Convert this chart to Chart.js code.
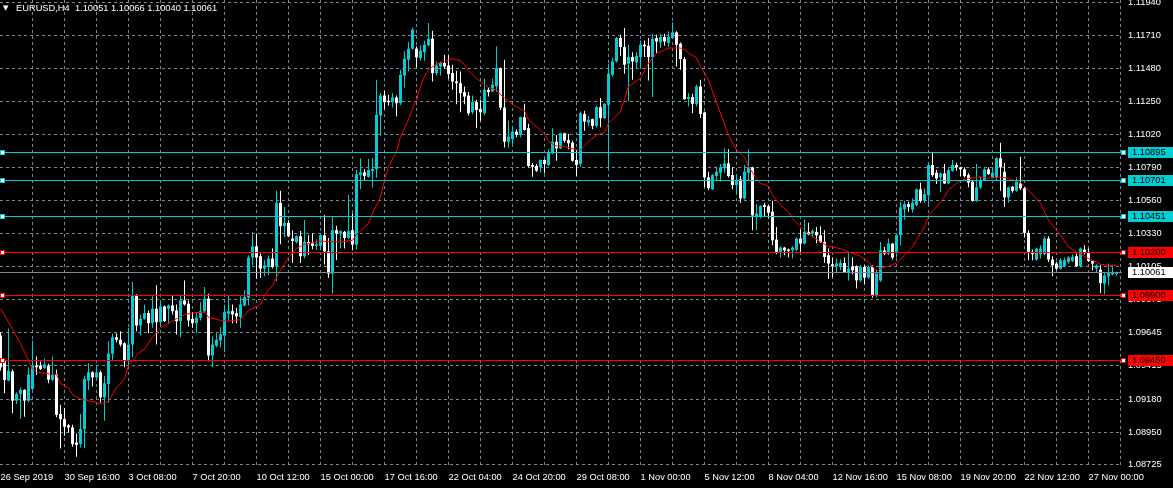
<!DOCTYPE html>
<html><head><meta charset="utf-8">
<script src="https://cdn.jsdelivr.net/npm/chart.js@4.4.1/dist/chart.umd.min.js"></script>
<style>
html,body{margin:0;padding:0;background:#000;overflow:hidden}
#wrap{position:relative;width:1173px;height:488px;background:#000}
canvas{display:block}
#hdr{position:absolute;left:16px;top:3px;color:#fff;font:9.3px "Liberation Sans",Arial,sans-serif;line-height:11px;white-space:pre}
#tri{position:absolute;left:3px;top:3px;color:#fff;font:7px "DejaVu Sans",sans-serif;line-height:11px}
</style></head><body>
<div id="wrap"><canvas id="c" width="1173" height="488"></canvas><div id="tri">▼</div><div id="hdr">EURUSD,H4  1.10051 1.10066 1.10040 1.10061</div></div>
<script>
const opens = [1.09623,1.09449,1.09309,1.09374,1.09170,1.09217,1.09245,1.09170,1.09252,1.09414,1.09414,1.09398,1.09414,1.09316,1.09351,1.09077,1.09042,1.08998,1.08984,1.08879,1.08868,1.08973,1.09309,1.09367,1.09332,1.09367,1.09193,1.09286,1.09496,1.09611,1.09593,1.09569,1.09444,1.09560,1.09902,1.09693,1.09739,1.09779,1.09709,1.09809,1.09716,1.09825,1.09809,1.09832,1.09797,1.09723,1.09867,1.09844,1.09739,1.09709,1.09746,1.09792,1.09879,1.09484,1.09553,1.09588,1.09623,1.09774,1.09792,1.09779,1.09751,1.09832,1.09886,1.10165,1.10243,1.10174,1.10088,1.10099,1.10158,1.10104,1.10545,1.10383,1.10406,1.10297,1.10273,1.10313,1.10174,1.10273,1.10264,1.10246,1.10246,1.10320,1.10208,1.10053,1.10355,1.10332,1.10343,1.10301,1.10355,1.10255,1.10738,1.10757,1.10726,1.10766,1.10780,1.11152,1.11291,1.11254,1.11245,1.11277,1.11238,1.11430,1.11540,1.11617,1.11617,1.11552,1.11593,1.11640,1.11686,1.11447,1.11493,1.11517,1.11500,1.11447,1.11389,1.11377,1.11315,1.11291,1.11175,1.11245,1.11198,1.11168,1.11331,1.11319,1.11354,1.11482,1.11207,1.10970,1.10987,1.11040,1.11017,1.11140,1.11064,1.10808,1.10801,1.10792,1.10843,1.10808,1.10890,1.10970,1.10924,1.11029,1.10982,1.10963,1.10843,1.10815,1.11163,1.11103,1.11127,1.11080,1.11210,1.11134,1.11226,1.11435,1.11528,1.11691,1.11628,1.11512,1.11559,1.11521,1.11559,1.11644,1.11637,1.11559,1.11691,1.11660,1.11698,1.11656,1.11691,1.11730,1.11651,1.11545,1.11266,1.11280,1.11233,1.11354,1.11173,1.10722,1.10639,1.10731,1.10754,1.10785,1.10820,1.10738,1.10669,1.10708,1.10576,1.10754,1.10792,1.10453,1.10453,1.10529,1.10522,1.10483,1.10290,1.10204,1.10234,1.10220,1.10215,1.10220,1.10297,1.10262,1.10343,1.10332,1.10343,1.10320,1.10273,1.10181,1.10118,1.10104,1.10099,1.10127,1.10064,1.10104,1.10104,1.10006,1.10099,1.10025,1.10099,1.09902,1.10006,1.10215,1.10193,1.10262,1.10204,1.10320,1.10499,1.10536,1.10499,1.10529,1.10639,1.10559,1.10599,1.10808,1.10754,1.10722,1.10750,1.10680,1.10768,1.10808,1.10792,1.10778,1.10738,1.10692,1.10559,1.10653,1.10703,1.10778,1.10722,1.10722,1.10855,1.10761,1.10583,1.10657,1.10629,1.10680,1.10646,1.10336,1.10204,1.10151,1.10188,1.10188,1.10297,1.10151,1.10123,1.10088,1.10104,1.10134,1.10141,1.10174,1.10104,1.10220,1.10204,1.10141,1.10088,1.10081,1.09983,1.10034,1.10048,1.10051];
const highs = [1.09646,1.09463,1.09670,1.09388,1.09228,1.09259,1.09249,1.09402,1.09588,1.09477,1.09442,1.09461,1.09426,1.09477,1.09386,1.09142,1.09119,1.09008,1.09003,1.08942,1.09077,1.09344,1.09430,1.09374,1.09414,1.09379,1.09344,1.09583,1.09635,1.09639,1.09653,1.09576,1.09677,1.09995,1.09910,1.09769,1.09839,1.09797,1.09895,1.09972,1.09867,1.09832,1.09839,1.09902,1.09839,1.09902,1.10006,1.09867,1.09786,1.09786,1.09855,1.09960,1.09914,1.09616,1.09639,1.09681,1.09839,1.09902,1.09839,1.09816,1.09895,1.09937,1.10181,1.10343,1.10332,1.10193,1.10146,1.10181,1.10227,1.10629,1.10629,1.10517,1.10425,1.10355,1.10320,1.10350,1.10425,1.10320,1.10332,1.10292,1.10332,1.10459,1.10301,1.10448,1.10385,1.10355,1.10350,1.10599,1.10471,1.10773,1.10855,1.10780,1.10850,1.10859,1.11400,1.11308,1.11324,1.11296,1.11308,1.11291,1.11470,1.11598,1.11663,1.11763,1.11633,1.11640,1.11672,1.11796,1.11742,1.11528,1.11528,1.11575,1.11570,1.11505,1.11463,1.11458,1.11354,1.11315,1.11291,1.11261,1.11261,1.11407,1.11347,1.11407,1.11633,1.11486,1.11540,1.11115,1.11080,1.11057,1.11145,1.11233,1.11094,1.10824,1.10815,1.10848,1.10848,1.10917,1.11064,1.11017,1.11033,1.11033,1.11024,1.10977,1.10913,1.11180,1.11186,1.11150,1.11131,1.11219,1.11273,1.11238,1.11512,1.11552,1.11698,1.11714,1.11761,1.11644,1.11591,1.11591,1.11674,1.11674,1.11691,1.11721,1.11714,1.11721,1.11721,1.11737,1.11800,1.11737,1.11660,1.11559,1.11308,1.11303,1.11366,1.11400,1.11180,1.10761,1.10745,1.10796,1.10815,1.10924,1.10917,1.10792,1.10745,1.10731,1.10808,1.10917,1.10796,1.10536,1.10529,1.10545,1.10529,1.10559,1.10378,1.10243,1.10239,1.10227,1.10243,1.10304,1.10360,1.10430,1.10406,1.10360,1.10378,1.10383,1.10355,1.10227,1.10165,1.10158,1.10151,1.10165,1.10204,1.10165,1.10111,1.10111,1.10111,1.10111,1.10111,1.10081,1.10273,1.10239,1.10297,1.10266,1.10327,1.10552,1.10559,1.10552,1.10576,1.10646,1.10685,1.10646,1.10815,1.10894,1.10773,1.10754,1.10815,1.10785,1.10843,1.10824,1.10796,1.10792,1.10750,1.10703,1.10815,1.10726,1.10785,1.10792,1.10792,1.10862,1.10963,1.10824,1.10657,1.10662,1.10722,1.10866,1.10653,1.10355,1.10220,1.10234,1.10250,1.10313,1.10313,1.10174,1.10134,1.10158,1.10165,1.10174,1.10188,1.10193,1.10234,1.10250,1.10227,1.10146,1.10118,1.10111,1.10057,1.10123,1.10099,1.10066];
const lows = [1.09379,1.09221,1.09305,1.09082,1.09147,1.09042,1.09058,1.09158,1.09245,1.09351,1.09384,1.09391,1.09291,1.09305,1.09054,1.08838,1.08926,1.08949,1.08849,1.08780,1.08845,1.08840,1.09245,1.09268,1.09321,1.09158,1.09031,1.09158,1.09449,1.09576,1.09546,1.09402,1.09391,1.09472,1.09653,1.09623,1.09733,1.09639,1.09677,1.09560,1.09693,1.09716,1.09705,1.09769,1.09630,1.09611,1.09832,1.09686,1.09677,1.09639,1.09728,1.09779,1.09444,1.09402,1.09542,1.09542,1.09507,1.09728,1.09709,1.09709,1.09677,1.09825,1.09832,1.10111,1.10018,1.10025,1.10034,1.10041,1.10088,1.10001,1.10257,1.10308,1.10308,1.10127,1.10262,1.10127,1.10158,1.10181,1.10222,1.10215,1.10215,1.10116,1.10022,1.09914,1.10146,1.10227,1.10227,1.10292,1.10215,1.10222,1.10641,1.10703,1.10719,1.10650,1.10719,1.11012,1.11198,1.11221,1.11207,1.11145,1.11225,1.11347,1.11458,1.11610,1.11486,1.11533,1.11533,1.11633,1.11389,1.11430,1.11430,1.11477,1.11407,1.11331,1.11231,1.11175,1.11231,1.11152,1.11161,1.11064,1.11115,1.11152,1.11284,1.11315,1.11315,1.11191,1.10929,1.10929,1.10954,1.11001,1.11001,1.11047,1.10792,1.10726,1.10760,1.10754,1.10750,1.10801,1.10885,1.10838,1.10917,1.10963,1.10917,1.10831,1.10731,1.10796,1.11047,1.11080,1.11057,1.11071,1.11071,1.11127,1.10785,1.11419,1.11521,1.11568,1.11442,1.11249,1.11400,1.11475,1.11482,1.11559,1.11396,1.11280,1.11587,1.11621,1.11637,1.11628,1.11684,1.11493,1.11470,1.11261,1.11214,1.11168,1.11214,1.11134,1.10653,1.10634,1.10634,1.10703,1.10692,1.10754,1.10722,1.10639,1.10606,1.10545,1.10569,1.10703,1.10355,1.10355,1.10436,1.10453,1.10436,1.10250,1.10188,1.10165,1.10181,1.10165,1.10158,1.10211,1.10204,1.10257,1.10320,1.10304,1.10262,1.10266,1.10127,1.10018,1.10029,1.10064,1.10076,1.10057,1.10006,1.10048,1.09949,1.09995,1.09979,1.10018,1.09886,1.09890,1.09995,1.10181,1.10181,1.10151,1.10165,1.10250,1.10430,1.10483,1.10476,1.10522,1.10545,1.10545,1.10529,1.10726,1.10676,1.10622,1.10676,1.10676,1.10761,1.10768,1.10731,1.10722,1.10653,1.10552,1.10552,1.10639,1.10699,1.10738,1.10715,1.10703,1.10629,1.10517,1.10545,1.10615,1.10622,1.10634,1.10304,1.10146,1.10146,1.10141,1.10158,1.10181,1.10134,1.10034,1.10076,1.10081,1.10095,1.10123,1.10134,1.10099,1.10095,1.10188,1.10134,1.10076,1.10057,1.09918,1.09909,1.09972,1.10041,1.10040];
const closes = [1.09402,1.09314,1.09379,1.09170,1.09217,1.09245,1.09170,1.09351,1.09414,1.09402,1.09391,1.09421,1.09316,1.09351,1.09072,1.09042,1.08989,1.08984,1.08868,1.08863,1.08973,1.09321,1.09367,1.09332,1.09367,1.09193,1.09291,1.09496,1.09611,1.09593,1.09560,1.09444,1.09560,1.09902,1.09693,1.09739,1.09779,1.09709,1.09809,1.09716,1.09825,1.09723,1.09832,1.09792,1.09723,1.09867,1.09839,1.09728,1.09709,1.09746,1.09792,1.09879,1.09484,1.09560,1.09593,1.09630,1.09786,1.09792,1.09769,1.09756,1.09839,1.09890,1.10165,1.10243,1.10165,1.10088,1.10111,1.10158,1.10099,1.10545,1.10383,1.10406,1.10313,1.10280,1.10313,1.10174,1.10273,1.10257,1.10246,1.10257,1.10320,1.10208,1.10053,1.10355,1.10332,1.10348,1.10301,1.10348,1.10255,1.10743,1.10757,1.10733,1.10773,1.10780,1.11156,1.11291,1.11245,1.11245,1.11277,1.11238,1.11435,1.11547,1.11617,1.11749,1.11556,1.11603,1.11644,1.11686,1.11447,1.11500,1.11517,1.11493,1.11440,1.11389,1.11377,1.11308,1.11284,1.11168,1.11245,1.11191,1.11175,1.11331,1.11315,1.11366,1.11482,1.11207,1.10970,1.11005,1.11040,1.11017,1.11140,1.11052,1.10801,1.10796,1.10768,1.10843,1.10815,1.10894,1.10970,1.10924,1.11029,1.10977,1.10959,1.10838,1.10808,1.11168,1.11110,1.11122,1.11080,1.11210,1.11134,1.11233,1.11442,1.11528,1.11691,1.11628,1.11505,1.11559,1.11528,1.11568,1.11644,1.11633,1.11559,1.11684,1.11667,1.11698,1.11667,1.11698,1.11730,1.11644,1.11545,1.11266,1.11280,1.11233,1.11354,1.11163,1.10722,1.10648,1.10738,1.10761,1.10792,1.10820,1.10731,1.10669,1.10699,1.10576,1.10761,1.10792,1.10459,1.10471,1.10522,1.10517,1.10476,1.10285,1.10204,1.10234,1.10215,1.10211,1.10234,1.10297,1.10262,1.10343,1.10327,1.10350,1.10320,1.10273,1.10169,1.10123,1.10104,1.10123,1.10127,1.10064,1.10088,1.10076,1.10006,1.10099,1.10025,1.10099,1.09902,1.10053,1.10215,1.10193,1.10262,1.10165,1.10320,1.10513,1.10536,1.10517,1.10545,1.10639,1.10559,1.10606,1.10808,1.10738,1.10715,1.10750,1.10680,1.10773,1.10808,1.10792,1.10778,1.10731,1.10685,1.10559,1.10653,1.10703,1.10778,1.10745,1.10754,1.10855,1.10792,1.10583,1.10653,1.10629,1.10692,1.10646,1.10336,1.10204,1.10188,1.10227,1.10227,1.10297,1.10151,1.10111,1.10088,1.10146,1.10146,1.10165,1.10169,1.10104,1.10227,1.10204,1.10141,1.10123,1.10111,1.09988,1.10041,1.10057,1.10064,1.10061];

const maIndex = [0,2,5,7,8,9,11,14,15,17,18,20,22,24,25,27,29,31,32,34,36,38,40,42,44,46,48,51,52,55,57,60,62,65,66,68,70,72,74,76,80,85,88,89,92,93,95,96,97,99,100,102,103,104,105,106,107,109,111,113,115,116,117,119,121,122,124,125,127,129,131,132,134,136,137,139,141,144,145,146,147,149,151,152,155,157,160,162,164,166,167,170,171,172,174,175,177,178,180,182,184,186,187,189,190,192,193,195,197,198,200,202,205,207,210,212,215,217,219,221,222,224,226,228,229,231,232,234,236,237,239,240,242,245,247,250,252,255,257,260,262,265,267,270,272,275,277,279];
const maValues = [1.09809,1.09716,1.09567,1.09449,1.09391,1.09367,1.09360,1.09351,1.09291,1.09259,1.09212,1.09182,1.09170,1.09158,1.09147,1.09165,1.09263,1.09321,1.09414,1.09484,1.09530,1.09611,1.09677,1.09709,1.09739,1.09769,1.09779,1.09786,1.09751,1.09728,1.09723,1.09733,1.09797,1.09839,1.09902,1.09972,1.10076,1.10165,1.10227,1.10257,1.10278,1.10273,1.10285,1.10325,1.10402,1.10471,1.10587,1.10703,1.10796,1.10901,1.11005,1.11122,1.11203,1.11261,1.11354,1.11423,1.11470,1.11510,1.11528,1.11547,1.11533,1.11505,1.11463,1.11412,1.11366,1.11347,1.11331,1.11296,1.11252,1.11210,1.11186,1.11122,1.11075,1.11024,1.10970,1.10940,1.10936,1.10913,1.10913,1.10940,1.10970,1.11017,1.11033,1.11099,1.11180,1.11354,1.11412,1.11517,1.11582,1.11610,1.11621,1.11621,1.11610,1.11587,1.11552,1.11493,1.11400,1.11319,1.11168,1.11017,1.10913,1.10862,1.10796,1.10715,1.10680,1.10662,1.10599,1.10529,1.10483,1.10436,1.10378,1.10332,1.10273,1.10243,1.10227,1.10204,1.10174,1.10134,1.10071,1.10099,1.10104,1.10127,1.10181,1.10239,1.10285,1.10378,1.10459,1.10517,1.10587,1.10634,1.10680,1.10699,1.10715,1.10726,1.10715,1.10724,1.10715,1.10685,1.10634,1.10541,1.10425,1.10320,1.10239,1.10188,1.10158,1.10118,1.10111,1.10111];

const timeLabels = ['26 Sep 2019','30 Sep 16:00','3 Oct 08:00','7 Oct 20:00','10 Oct 12:00','15 Oct 00:00','17 Oct 16:00','22 Oct 04:00','24 Oct 20:00','29 Oct 08:00','1 Nov 00:00','5 Nov 12:00','8 Nov 04:00','12 Nov 16:00','15 Nov 08:00','19 Nov 20:00','22 Nov 12:00','27 Nov 00:00'];
const priceTicks = [1.11940,1.11710,1.11480,1.11250,1.11020,1.10790,1.10560,1.10330,1.10105,1.09875,1.09645,1.09415,1.09180,1.08950,1.08725];
const priceTickLabels = ['1.11940','1.11710','1.11480','1.11250','1.11020','1.10790','1.10560','1.10330','1.10105','1.09875','1.09645','1.09415','1.09180','1.08950','1.08725'];
const cyanLevels = [1.10895,1.10701,1.10451];
const redLevels = [1.10200,1.09900,1.09450];

const UP = '#00CED1', DOWN = '#FFFFFF', GRID = '#778899', RED = '#FF0000', BIDLINE = '#778899';
const FONT = "'Liberation Sans', Arial, sans-serif";
const FSIZE = 9.3;
const candleColor = ctx => closes[ctx.dataIndex] >= opens[ctx.dataIndex] ? UP : DOWN;

const gridTicks = [];
for (let v = 0; v <= 280; v += 8) gridTicks.push(v);

const levelsPlugin = {
  id: 'levels',
  afterDatasetsDraw(chart) {
    const {ctx, chartArea: a, scales: {y}} = chart;
    ctx.save();
    const line = (v, c) => {
      const py = Math.floor(y.getPixelForValue(v));
      ctx.fillStyle = c;
      ctx.fillRect(a.left, py, a.right - a.left, 1);
    };
    line(closes[closes.length - 1], BIDLINE);
    cyanLevels.forEach(v => line(v, UP));
    redLevels.forEach(v => line(v, RED));
    ctx.restore();
  },
  afterDraw(chart) {
    const {ctx, chartArea: a, scales: {y}} = chart;
    ctx.save();
    const sq = (x, py, c) => {
      ctx.fillStyle = c; ctx.fillRect(x, py - 2, 5, 5);
      ctx.fillStyle = '#fff'; ctx.fillRect(x + 1, py - 1, 3, 3);
    };
    const box = (v, bg, fg, txt) => {
      const py = Math.floor(y.getPixelForValue(v));
      ctx.fillStyle = bg;
      ctx.fillRect(a.right + 6, py - 5, 60, 11);
      ctx.fillStyle = fg;
      ctx.font = FSIZE + 'px ' + FONT;
      ctx.textBaseline = 'middle';
      ctx.textAlign = 'left';
      ctx.fillText(txt, a.right + 10, py + 0.5);
      return py;
    };
    cyanLevels.forEach(v => { const py = box(v, UP, '#000', v.toFixed(5)); sq(0, py, UP); sq(a.right - 1, py, UP); });
    redLevels.forEach(v => { const py = box(v, RED, '#000', v.toFixed(5)); sq(0, py, RED); sq(a.right - 1, py, RED); });
    const last = closes[closes.length - 1];
    box(last, '#fff', '#000', last.toFixed(5));
    ctx.restore();
  }
};

new Chart(document.getElementById('c'), {
  type: 'bar',
  data: {
    datasets: [
      { type: 'line', label: 'MA', data: maIndex.map((x, k) => ({x, y: maValues[k]})), borderColor: RED, borderWidth: 1, pointRadius: 0, tension: 0, order: 0 },
      { label: 'body', data: opens.map((o, i) => ({x: i, y: [o, closes[i]]})), backgroundColor: candleColor, grouped: false, categoryPercentage: 1, barPercentage: 1, maxBarThickness: 3, minBarLength: 1, inflateAmount: 0, borderWidth: 0, order: 1 },
      { label: 'wick', data: opens.map((o, i) => ({x: i, y: [lows[i], highs[i]]})), backgroundColor: candleColor, grouped: false, categoryPercentage: 1, barPercentage: 1, maxBarThickness: 1, inflateAmount: 0, borderWidth: 0, order: 2 }
    ]
  },
  options: {
    responsive: false, animation: false, devicePixelRatio: 1, events: [],
    layout: { padding: 0 },
    plugins: { legend: { display: false }, tooltip: { enabled: false }, title: { display: false } },
    scales: {
      x: {
        type: 'linear', min: -0.125, max: 280.375, offset: false,
        afterBuildTicks: s => { s.ticks = gridTicks.map(v => ({value: v})); },
        afterFit: s => { s.height = 21; s.paddingLeft = 0; s.paddingRight = 0; },
        grid: { offset: false, lineWidth: 1, color: c => (c.tick && c.tick.value === 0) ? 'rgba(0,0,0,0)' : GRID, drawTicks: true, tickLength: 4, tickColor: 'rgba(0,0,0,0)' },
        border: { display: false, dash: [3, 3] },
        ticks: { autoSkip: false, maxRotation: 0, minRotation: 0, align: 'start', padding: 1, color: '#fff', font: { family: FONT, size: FSIZE }, callback: v => v % 16 === 0 ? timeLabels[v / 16] : '' }
      },
      y: {
        position: 'right', min: 1.08709, max: 1.11955,
        afterBuildTicks: s => { s.ticks = priceTicks.map(v => ({value: v})); },
        afterFit: s => { s.width = 51; s.paddingTop = 0; s.paddingBottom = 0; },
        grid: { lineWidth: 1, color: GRID, drawTicks: true, tickLength: 4, tickColor: 'rgba(0,0,0,0)' },
        border: { display: false, dash: [3, 3] },
        ticks: { autoSkip: false, padding: 2, crossAlign: 'near', color: '#fff', font: { family: FONT, size: FSIZE }, callback: (v, i) => priceTickLabels[i] }
      }
    }
  },
  plugins: [levelsPlugin]
});
</script>
</body></html>
